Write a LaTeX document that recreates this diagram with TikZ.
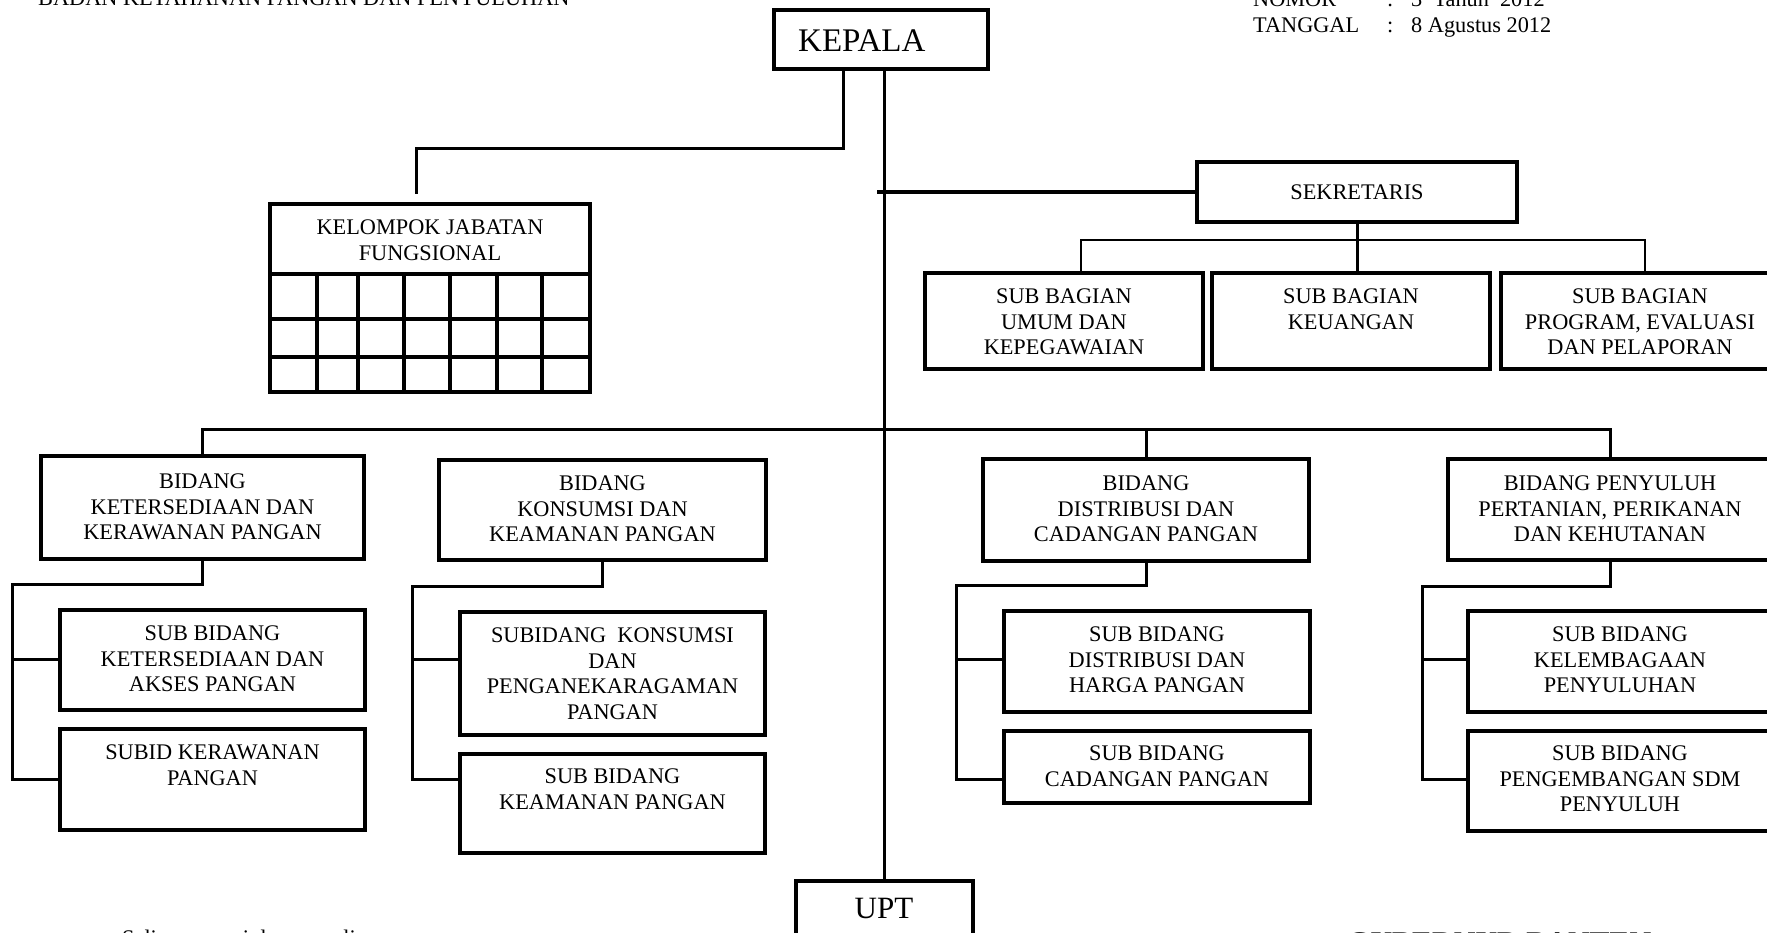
\documentclass[tikz,border=0pt]{standalone}
\usepackage{fontspec}
\setmainfont{Liberation Serif}
\usetikzlibrary{calc,fit}
\begin{document}
\begin{tikzpicture}[x=1pt,y=-1pt,
  box/.style={draw, line width=3.5pt, inner sep=0pt, outer sep=0pt},
  txt/.style={font=\fontsize{22.3}{25.5}\selectfont, align=center, inner sep=0pt, anchor=north},
  hdr/.style={font=\fontsize{22.3}{25.5}\selectfont, inner sep=0pt, anchor=base west},
  conn/.style={line width=3pt},
  grid/.style={line width=3.5pt}
]
\useasboundingbox (0,0) rectangle (1767,933);

% header texts
\node[hdr] (badan) at (38,6) {BADAN KETAHANAN PANGAN DAN PENYULUHAN};
\node[hdr] (nomor) at (1253,7) {NOMOR};
\node[hdr] (nomorc) at (1387,7) {:};
\node[hdr] (nomorv) at (1411,7) {3\ \ Tahun\ \ 2012};
\node[hdr] (tgl) at (1253,33) {TANGGAL};
\node[hdr] (tglc) at (1387,33) {:};
\node[hdr] (tglv) at (1411,33) {8 Agustus 2012};

% KEPALA
\node[box, fit={(774,10)(988,69)}] (kepala) {};
\node[font=\fontsize{33}{36}\selectfont, inner sep=0pt, anchor=base west] (kepalat) at (798,52) {KEPALA};

% Kelompok jabatan fungsional
\node[box, fit={(270,204)(590,274)}] (kjf) {};
\node[txt] (kjft) at ($(kjf.north)+(0,16)$) {KELOMPOK JABATAN\\FUNGSIONAL};
\draw[grid] (270,274) -- (270,392) -- (590,392) -- (590,274);
\draw[grid] (270,319) -- (590,319);
\draw[grid] (270,357) -- (590,357);
\foreach \gx in {317,358,404,450,497,542} \draw[grid] (\gx,274) -- (\gx,392);

% Sekretaris
\node[box, fit={(1197,162)(1517,222)}] (sek) {};
\node[txt, anchor=center] (sekt) at (sek.center) {SEKRETARIS};
\node[box, fit={(925,273)(1203,369)}] (sb1) {};
\node[txt] (sb1t) at ($(sb1.north)+(0,16)$) {SUB BAGIAN\\UMUM DAN\\KEPEGAWAIAN};
\node[box, fit={(1212,273)(1490,369)}] (sb2) {};
\node[txt] (sb2t) at ($(sb2.north)+(0,16)$) {SUB BAGIAN\\KEUANGAN};
\node[box, fit={(1501,273)(1779,369)}] (sb3) {};
\node[txt] (sb3t) at ($(sb3.north)+(0,16)$) {SUB BAGIAN\\PROGRAM, EVALUASI\\DAN PELAPORAN};

% Bidang
\node[box, fit={(41,456)(364,559)}] (b1) {};
\node[txt] (b1t) at ($(b1.north)+(0,18)$) {BIDANG\\KETERSEDIAAN DAN\\KERAWANAN PANGAN};
\node[box, fit={(439,460)(766,560)}] (b2) {};
\node[txt] (b2t) at ($(b2.north)+(0,16)$) {BIDANG\\KONSUMSI DAN\\KEAMANAN PANGAN};
\node[box, fit={(983,459)(1309,561)}] (b3) {};
\node[txt] (b3t) at ($(b3.north)+(0,17)$) {BIDANG\\DISTRIBUSI DAN\\CADANGAN PANGAN};
\node[box, fit={(1448,459)(1772,560)}] (b4) {};
\node[txt] (b4t) at ($(b4.north)+(0,17)$) {BIDANG PENYULUH\\PERTANIAN, PERIKANAN\\DAN KEHUTANAN};

% Sub bidang
\node[box, fit={(60,610)(365,710)}] (s11) {};
\node[txt] (s11t) at ($(s11.north)+(0,16)$) {SUB BIDANG\\KETERSEDIAAN DAN\\AKSES PANGAN};
\node[box, fit={(60,729)(365,830)}] (s12) {};
\node[txt] (s12t) at ($(s12.north)+(0,16)$) {SUBID KERAWANAN\\PANGAN};
\node[box, fit={(460,612)(765,735)}] (s21) {};
\node[txt] (s21t) at ($(s21.north)+(0,16)$) {SUBIDANG\ \ KONSUMSI\\DAN\\PENGANEKARAGAMAN\\PANGAN};
\node[box, fit={(460,754)(765,853)}] (s22) {};
\node[txt] (s22t) at ($(s22.north)+(0,15)$) {SUB BIDANG\\KEAMANAN PANGAN};
\node[box, fit={(1004,611)(1310,712)}] (s31) {};
\node[txt] (s31t) at ($(s31.north)+(0,16)$) {SUB BIDANG\\DISTRIBUSI DAN\\HARGA PANGAN};
\node[box, fit={(1004,731)(1310,803)}] (s32) {};
\node[txt] (s32t) at ($(s32.north)+(0,15)$) {SUB BIDANG\\CADANGAN PANGAN};
\node[box, fit={(1468,611)(1772,712)}] (s41) {};
\node[txt] (s41t) at ($(s41.north)+(0,16)$) {SUB BIDANG\\KELEMBAGAAN\\PENYULUHAN};
\node[box, fit={(1468,731)(1772,831)}] (s42) {};
\node[txt] (s42t) at ($(s42.north)+(0,15)$) {SUB BIDANG\\PENGEMBANGAN SDM\\PENYULUH};

% UPT
\node[box, fit={(796,881)(973,945)}] (upt) {};
\node[font=\fontsize{31}{35}\selectfont, inner sep=0pt, anchor=base] (uptt) at (884,918) {UPT};

% bottom texts
\node[hdr] (salinan) at (122,945) {Salinan sesuai dengan aslinya};
\node[font=\fontsize{30}{34}\selectfont\bfseries, inner sep=0pt, anchor=base west] (gub) at (1347,952) {GUBERNUR BANTEN};

% connectors
\coordinate (kjA) at (843,149);
\coordinate (kjB) at (416,194);
\draw[conn] (kepala.south -| kjA) -- (kjA) -| (kjB);
\draw[conn] (upt.north) -- (upt.north |- kepala.south);

\coordinate (sekL) at (877,192);
\draw[line width=4pt] (sekL) -- (sek.west);
\coordinate (sbL) at (1081,240);
\coordinate (sbR) at (1645,240);
\draw[line width=2.5pt] (sb1.north -| sbL) -- (sbL) -- (sbR) -- (sb3.north -| sbR);
\draw[conn] (sek.south) -- (sek.south |- sb2.north);

\coordinate (bus) at (0,429);
\draw[conn] (b1.north) -- (b1.north |- bus) -- (b4.north |- bus) -- (b4.north);
\draw[conn] (b3.north) -- (b3.north |- bus);

\coordinate (L1) at (0,659);
\coordinate (L2) at (0,779);
\coordinate (c1) at (12,584);
\coordinate (c2) at (412,586);
\coordinate (c3) at (956,585);
\coordinate (c4) at (1422,586);

\draw[conn] (b1.south) |- (c1) -- (c1 |- L2) -- (s12.west |- L2);
\draw[conn] (c1 |- L1) -- (s11.west |- L1);
\draw[conn] (b2.south) |- (c2) -- (c2 |- L2) -- (s22.west |- L2);
\draw[conn] (c2 |- L1) -- (s21.west |- L1);
\draw[conn] (b3.south) |- (c3) -- (c3 |- L2) -- (s32.west |- L2);
\draw[conn] (c3 |- L1) -- (s31.west |- L1);
\draw[conn] (b4.south) |- (c4) -- (c4 |- L2) -- (s42.west |- L2);
\draw[conn] (c4 |- L1) -- (s41.west |- L1);
\end{tikzpicture}
\end{document}
